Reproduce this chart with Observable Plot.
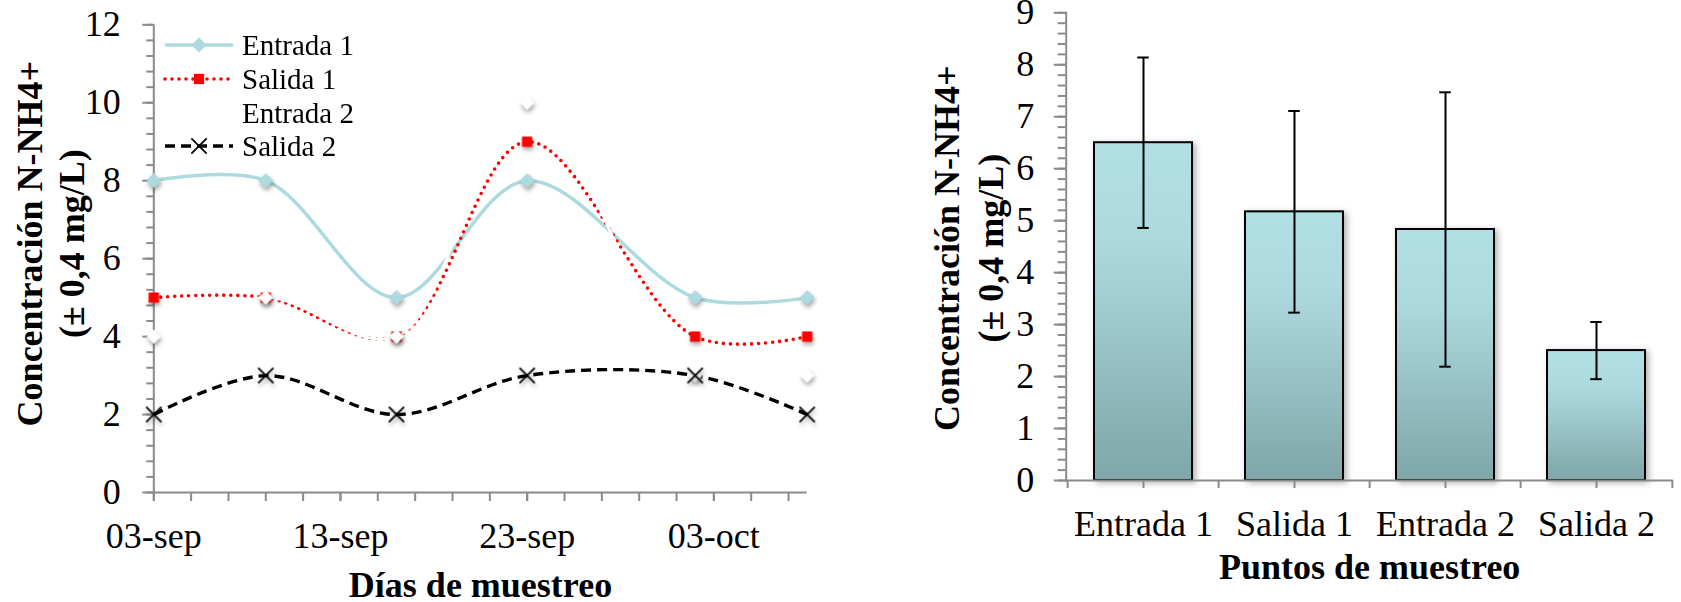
<!DOCTYPE html>
<html><head><meta charset="utf-8">
<script src="https://cdn.jsdelivr.net/npm/d3@7"></script>
<script src="https://cdn.jsdelivr.net/npm/@observablehq/plot@0.6"></script>
<style>
body{margin:0;background:#fff;}
#wrap{display:flex;width:1681px;height:602px;position:relative;font-family:"Liberation Serif","Times New Roman",serif;}
#legend{position:absolute;left:0;top:0;}
</style></head><body>
<div id="wrap"><div id="left"></div><div id="right"></div><svg id="legend" width="420" height="170"></svg></div>
<script>
// ---------- data (left: time series) ----------
const fechas = ["2013-09-03","2013-09-09","2013-09-16","2013-09-23","2013-10-02","2013-10-08"];
const entrada1 = [8, 8, 5, 8, 5, 5];
const salida1  = [5, 5, 4, 9, 4, 4];
const entrada2 = [4, 5, 4, 10, 3, 3];
const salida2  = [2, 3, 2, 3, 3, 2];
const series = ["Entrada 1", "Salida 1", "Entrada 2", "Salida 2"];
const xTickLabels = ["03-sep", "13-sep", "23-sep", "03-oct"];
const yTicksLeft = [0, 2, 4, 6, 8, 10, 12];

// ---------- data (right: bars) ----------
const puntos = ["Entrada 1", "Salida 1", "Entrada 2", "Salida 2"];
const medias = [6.5, 5.17, 4.83, 2.5];
const desv   = [1.64, 1.94, 2.64, 0.55];
const yTicksRight = [0, 1, 2, 3, 4, 5, 6, 7, 8, 9];

const FONT = '"Liberation Serif","Times New Roman",serif';
const GRAY = "#8a8a8a";
const BLUE = "#acdadf";

const valores = [entrada1, salida1, entrada2, salida2];
const tabla = series.flatMap((s, i) => fechas.map((f, j) => ({serie: s, fecha: new Date(f), valor: valores[i][j]})));

const estilos = {
  "Entrada 1": {stroke: BLUE, width: 3.5, dash: null, cap: "butt", symbol: "diamond2", r: 6.4, fill: BLUE, mstroke: BLUE, mw: 1},
  "Salida 1":  {stroke: "#ff0000", width: 3.6, dash: "0 7", cap: "round", symbol: "square", r: 5.8, fill: "#ff0000", mstroke: "none", mw: 0},
  "Entrada 2": {stroke: "#ffffff", width: 3, dash: null, cap: "butt", symbol: "diamond2", r: 6.2, fill: "#ffffff", mstroke: "#ffffff", mw: 1},
  "Salida 2":  {stroke: "#000000", width: 3.4, dash: "10 6", cap: "butt", symbol: "times", r: 7, fill: "none", mstroke: "#000000", mw: 1.8}
};

const mesIdx = {sep: 8, oct: 9};
const mesNom = ["ene","feb","mar","abr","may","jun","jul","ago","sep","oct","nov","dic"];
const xMajor = xTickLabels.map(s => new Date(Date.UTC(2013, mesIdx[s.slice(3)], +s.slice(0, 2))));
const x0 = new Date(fechas[0]), x1 = new Date(fechas[fechas.length - 1]);
const xMinor = d3.utcDay.range(x0, x1, 2);
const yMinorLeft = d3.range(0, 12.001, 0.4).map(v => +v.toFixed(1));
const fmtFecha = d => `${d3.utcFormat("%d")(d)}-${mesNom[d.getUTCMonth()]}`;

const lineMarks = series.map(s => {
  const e = estilos[s];
  return Plot.line(tabla.filter(r => r.serie === s), {
    x: "fecha", y: "valor", stroke: e.stroke, strokeWidth: e.width,
    strokeDasharray: e.dash, strokeLinecap: e.cap, curve: "catmull-rom"
  });
});
const dotMarks = series.map(s => {
  const e = estilos[s];
  return Plot.dot(tabla.filter(r => r.serie === s), {
    x: "fecha", y: "valor", symbol: e.symbol, r: e.r, fill: e.fill,
    stroke: e.mstroke, strokeWidth: e.mw
  });
});

const left = Plot.plot({
  width: 840, height: 602,
  marginLeft: 153.3, marginRight: 33.3, marginTop: 24.3, marginBottom: 110,
  style: {fontFamily: FONT, background: "transparent", overflow: "visible"},
  x: {type: "utc", domain: [x0, x1], axis: null},
  y: {domain: [0, 12], axis: null},
  marks: [
    Plot.axisY({ticks: yMinorLeft, tickSize: 7, fill: "none", stroke: GRAY, strokeWidth: 2, label: null}),
    Plot.axisY({ticks: yTicksLeft, tickSize: 11, tickPadding: 22, tickFormat: d => String(d), fontSize: 36, fill: "#000", stroke: GRAY, strokeWidth: 2, label: null}),
    Plot.axisX({ticks: xMinor, tickSize: 9, fill: "none", stroke: GRAY, strokeWidth: 2, label: null}),
    Plot.axisX({ticks: xMajor, tickSize: 9, tickPadding: 21, tickFormat: fmtFecha, fontSize: 36, fill: "#000", stroke: GRAY, strokeWidth: 2, label: null}),
    Plot.ruleX([x0], {stroke: GRAY, strokeWidth: 2}),
    Plot.ruleY([0], {stroke: GRAY, strokeWidth: 2}),
    ...lineMarks,
    ...dotMarks,
    Plot.text(["Días de muestreo"], {frameAnchor: "bottom", dy: 104, lineAnchor: "bottom", textAnchor: "middle", fontSize: 36, fontWeight: "bold", fill: "#000"}),
    Plot.text(["Concentración N-NH4+\n(± 0,4 mg/L)"], {frameAnchor: "left", rotate: -90, dx: -104, dy: -15, textAnchor: "middle", lineAnchor: "middle", lineHeight: 1.17, fontSize: 36, fontWeight: "bold", fill: "#000"})
  ]
});

// ---------- right chart ----------
const barras = puntos.map((p, i) => ({punto: p, media: medias[i], sd: desv[i]}));
const mlR = 225.7, mrR = 8.3, wR = 841;
const step = (wR - mlR - mrR) / puntos.length;
const padIn = 0.351;
const bandW = step * (1 - padIn);
const capInset = bandW / 2 - 6;

const right = Plot.plot({
  width: wR, height: 602,
  marginLeft: mlR, marginRight: mrR, marginTop: 12.3, marginBottom: 122,
  style: {fontFamily: FONT, background: "transparent", overflow: "visible"},
  x: {type: "band", domain: puntos, paddingInner: padIn, paddingOuter: padIn / 2, axis: null},
  y: {domain: [0, 9], axis: null},
  marks: [
    Plot.axisY({ticks: d3.range(0, 9.001, 0.2).map(v => +v.toFixed(1)), tickSize: 8, fill: "none", stroke: GRAY, strokeWidth: 2, label: null}),
    Plot.axisY({ticks: yTicksRight, tickSize: 12, tickPadding: 20, tickFormat: d => String(d), fontSize: 36, fill: "#000", stroke: GRAY, strokeWidth: 2, label: null}),
    Plot.barY(barras, {x: "punto", y: "media", fill: "url(#barGrad)", stroke: "#000", strokeWidth: 2}),
    Plot.ruleX(barras, {x: "punto", y1: d => d.media - d.sd, y2: d => d.media + d.sd, stroke: "#000", strokeWidth: 2}),
    Plot.tickY(barras, {x: "punto", y: d => d.media - d.sd, insetLeft: capInset, insetRight: capInset, stroke: "#000", strokeWidth: 2}),
    Plot.tickY(barras, {x: "punto", y: d => d.media + d.sd, insetLeft: capInset, insetRight: capInset, stroke: "#000", strokeWidth: 2}),
    Plot.axisX({ticks: puntos, tickSize: 8, fill: "none", stroke: GRAY, strokeWidth: 2, dx: -step / 2, label: null}),
    Plot.axisX({ticks: [puntos[puntos.length - 1]], tickSize: 8, fill: "none", stroke: GRAY, strokeWidth: 2, dx: step / 2, label: null}),
    Plot.axisX({ticks: puntos, tickSize: 8, tickPadding: 22, fontSize: 36, fill: "#000", stroke: GRAY, strokeWidth: 2, label: null}),
    Plot.frame({anchor: "left", stroke: GRAY, strokeWidth: 2}),
    Plot.ruleY([0], {stroke: GRAY, strokeWidth: 2}),
    Plot.text(["Puntos de muestreo"], {frameAnchor: "bottom", dy: 98, lineAnchor: "bottom", textAnchor: "middle", fontSize: 36, fontWeight: "bold", fill: "#000"}),
    Plot.text(["Concentración N-NH4+\n(± 0,4 mg/L)"], {frameAnchor: "left", rotate: -90, dx: -99, dy: 1.5, textAnchor: "middle", lineAnchor: "middle", lineHeight: 1.2, fontSize: 36, fontWeight: "bold", fill: "#000"})
  ]
});

const defs = d3.select(right).insert("defs", ":first-child");
const grad = defs.append("linearGradient").attr("id", "barGrad").attr("x1", 0).attr("y1", 0).attr("x2", 0).attr("y2", 1);
grad.append("stop").attr("offset", "0").attr("stop-color", "#b1e0e4");
grad.append("stop").attr("offset", "0.3").attr("stop-color", "#acd9de");
grad.append("stop").attr("offset", "1").attr("stop-color", "#7fa6a8");

document.getElementById("left").appendChild(left);
document.getElementById("right").appendChild(right);

d3.select(left).selectAll('g[aria-label="dot"]').style("filter", "drop-shadow(1.5px 3px 2px rgba(0,0,0,0.35))");
d3.select(right).selectAll('g[aria-label="bar"]').style("filter", "drop-shadow(3px 2px 3px rgba(0,0,0,0.3))");

// ---------- legend (inside left plot) ----------
const leg = d3.select("#legend");
const rowsY = [45, 79, 113, 146];
series.forEach((s, i) => {
  const e = estilos[s], y = rowsY[i];
  leg.append("line").attr("x1", 165).attr("x2", 233).attr("y1", y).attr("y2", y)
    .attr("stroke", e.stroke).attr("stroke-width", e.width)
    .attr("stroke-dasharray", e.dash).attr("stroke-linecap", e.cap);
  const symMap = {diamond2: d3.symbolDiamond2, square: d3.symbolSquare, times: d3.symbolTimes};
  leg.append("path").attr("transform", `translate(199,${y})`)
    .attr("d", d3.symbol(symMap[e.symbol], Math.PI * e.r * e.r)())
    .attr("fill", e.fill).attr("stroke", e.mstroke).attr("stroke-width", e.mw);
  leg.append("text").attr("x", 242).attr("y", y).attr("dy", "0.34em")
    .attr("font-family", FONT).attr("font-size", 29).attr("fill", "#000").text(s);
});
</script>
</body></html>
